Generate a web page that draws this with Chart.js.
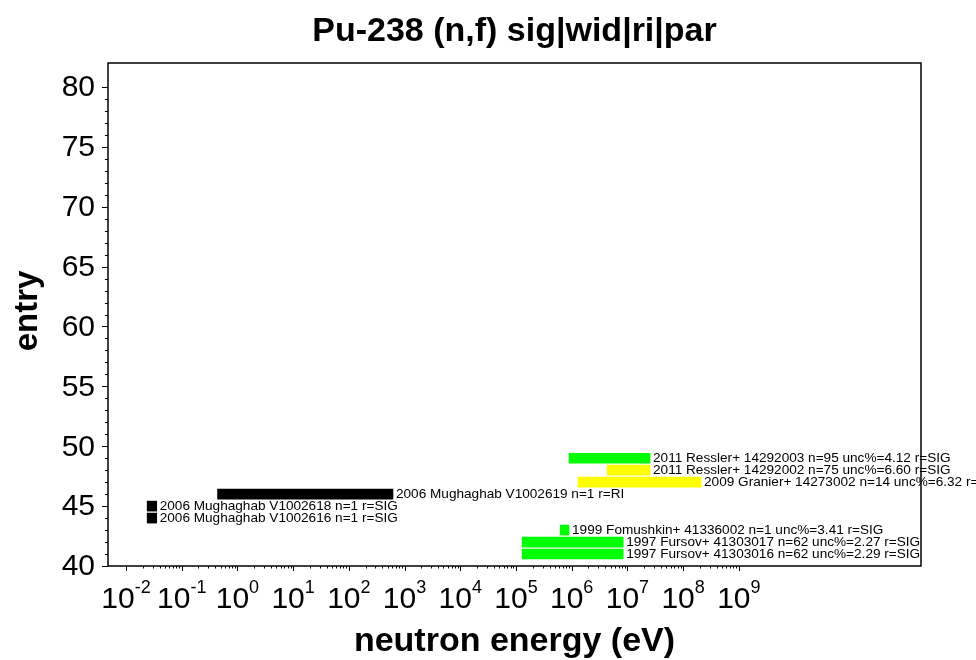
<!DOCTYPE html>
<html><head><meta charset="utf-8">
<script src="https://cdn.jsdelivr.net/npm/chart.js@4/dist/chart.umd.min.js"></script>
<style>html,body{margin:0;padding:0;background:#fff}canvas{display:block}</style>
</head><body>
<canvas id="c" width="976" height="660"></canvas>
<script>
// ---- data ----
const entries = [41, 42, 43, 44, 45, 46, 47, 48, 49];
const energyLow  = [1.29e5, 1.29e5, 6.2e5, 0.024, 0.024, 0.44, 1.30e6, 4.33e6, 8.97e5];
const energyHigh = [8.4e6, 8.4e6, 8.97e5, 0.0356, 0.0356, 620, 2.1e8, 2.55e7, 2.55e7];
const entryLabels = [
  '1997 Fursov+ 41303016 n=62 unc%=2.29 r=SIG',
  '1997 Fursov+ 41303017 n=62 unc%=2.27 r=SIG',
  '1999 Fomushkin+ 41336002 n=1 unc%=3.41 r=SIG',
  '2006 Mughaghab V1002616 n=1 r=SIG',
  '2006 Mughaghab V1002618 n=1 r=SIG',
  '2006 Mughaghab V1002619 n=1 r=RI',
  '2009 Granier+ 14273002 n=14 unc%=6.32 r=SIG',
  '2011 Ressler+ 14292002 n=75 unc%=6.60 r=SIG',
  '2011 Ressler+ 14292003 n=95 unc%=4.12 r=SIG'
];
const barColors = ['#00ff00', '#00ff00', '#00ff00', '#000000', '#000000', '#000000', '#ffff00', '#ffff00', '#00ff00'];
const yTickValues = [40, 45, 50, 55, 60, 65, 70, 75, 80];
const xTickExponents = [-2, -1, 0, 1, 2, 3, 4, 5, 6, 7, 8, 9];
const chartTitle = 'Pu-238 (n,f) sig|wid|ri|par';
const xAxisTitle = 'neutron energy (eV)';
const yAxisTitle = 'entry';

const FONT = '"Liberation Sans", Arial, Helvetica, sans-serif';

const decor = {
  id: 'decor',
  afterDatasetsDraw(chart) {
    const { ctx, chartArea: a, scales: { x, y } } = chart;
    ctx.save();
    ctx.strokeStyle = '#000';
    ctx.fillStyle = '#000';
    // frame
    ctx.lineWidth = 1.5;
    ctx.strokeRect(a.left, a.top, a.right - a.left, a.bottom - a.top);
    ctx.lineWidth = 1;
    // y ticks
    ctx.beginPath();
    for (let v = yTickValues[0]; v <= yTickValues[yTickValues.length - 1]; v++) {
      const py = Math.round(y.getPixelForValue(v)) + 0.5;
      const len = (v % 5 === 0) ? 6 : 3;
      ctx.moveTo(a.left - len, py); ctx.lineTo(a.left, py);
    }
    // x ticks
    xTickExponents.forEach((d, i) => {
      const px = Math.round(x.getPixelForValue(Math.pow(10, d))) + 0.5;
      ctx.moveTo(px, a.bottom); ctx.lineTo(px, a.bottom + 5);
      if (i < xTickExponents.length - 1) {
        for (let m = 2; m <= 9; m++) {
          const pm = Math.round(x.getPixelForValue(m * Math.pow(10, d))) + 0.5;
          ctx.moveTo(pm, a.bottom); ctx.lineTo(pm, a.bottom + 2.5);
        }
      }
    });
    ctx.stroke();
    // y tick labels
    ctx.font = '30px ' + FONT;
    ctx.textAlign = 'right';
    ctx.textBaseline = 'middle';
    yTickValues.forEach(v => ctx.fillText(String(v), a.left - 13, y.getPixelForValue(v) + 1));
    // x tick labels with superscripts
    ctx.textBaseline = 'alphabetic';
    ctx.textAlign = 'left';
    xTickExponents.forEach(d => {
      const px = x.getPixelForValue(Math.pow(10, d));
      ctx.font = '30px ' + FONT;
      const wb = ctx.measureText('10').width;
      ctx.font = '18px ' + FONT;
      const es = String(d);
      const we = ctx.measureText(es).width;
      const x0 = px - (wb + we) / 2;
      ctx.font = '30px ' + FONT;
      ctx.fillText('10', x0, a.bottom + 42);
      ctx.font = '18px ' + FONT;
      ctx.fillText(es, x0 + wb, a.bottom + 27);
    });
    // bar labels
    ctx.font = '13.6px ' + FONT;
    ctx.textBaseline = 'middle';
    entries.forEach((e, i) => {
      ctx.fillText(entryLabels[i], x.getPixelForValue(energyHigh[i]) + 3, y.getPixelForValue(e) + 0.5);
    });
    // titles
    ctx.textAlign = 'center';
    ctx.textBaseline = 'alphabetic';
    ctx.font = 'bold 34px ' + FONT;
    ctx.fillText(chartTitle, (a.left + a.right) / 2, 41);
    ctx.font = 'bold 34px ' + FONT;
    ctx.fillText(xAxisTitle, (a.left + a.right) / 2, 651);
    ctx.translate(37, 311);
    ctx.rotate(-Math.PI / 2);
    ctx.font = 'bold 33px ' + FONT;
    ctx.fillText(yAxisTitle, 0, 0);
    ctx.restore();
  }
};

new Chart(document.getElementById('c'), {
  type: 'bar',
  data: {
    datasets: [{
      data: entries.map((e, i) => ({ y: e, x: [energyLow[i], energyHigh[i]] })),
      backgroundColor: barColors,
      borderWidth: 0,
      barThickness: 10
    }]
  },
  options: {
    indexAxis: 'y',
    responsive: false,
    animation: false,
    layout: { padding: { left: 108, top: 63, right: 55, bottom: 94 } },
    plugins: { legend: { display: false }, tooltip: { enabled: false }, title: { display: false } },
    scales: {
      x: { type: 'logarithmic', min: Math.pow(10, -2.323), max: Math.pow(10, 12.27), display: false, offset: false },
      y: { type: 'linear', min: 40, max: 82, display: false, offset: false }
    }
  },
  plugins: [decor]
});
</script>
</body></html>
